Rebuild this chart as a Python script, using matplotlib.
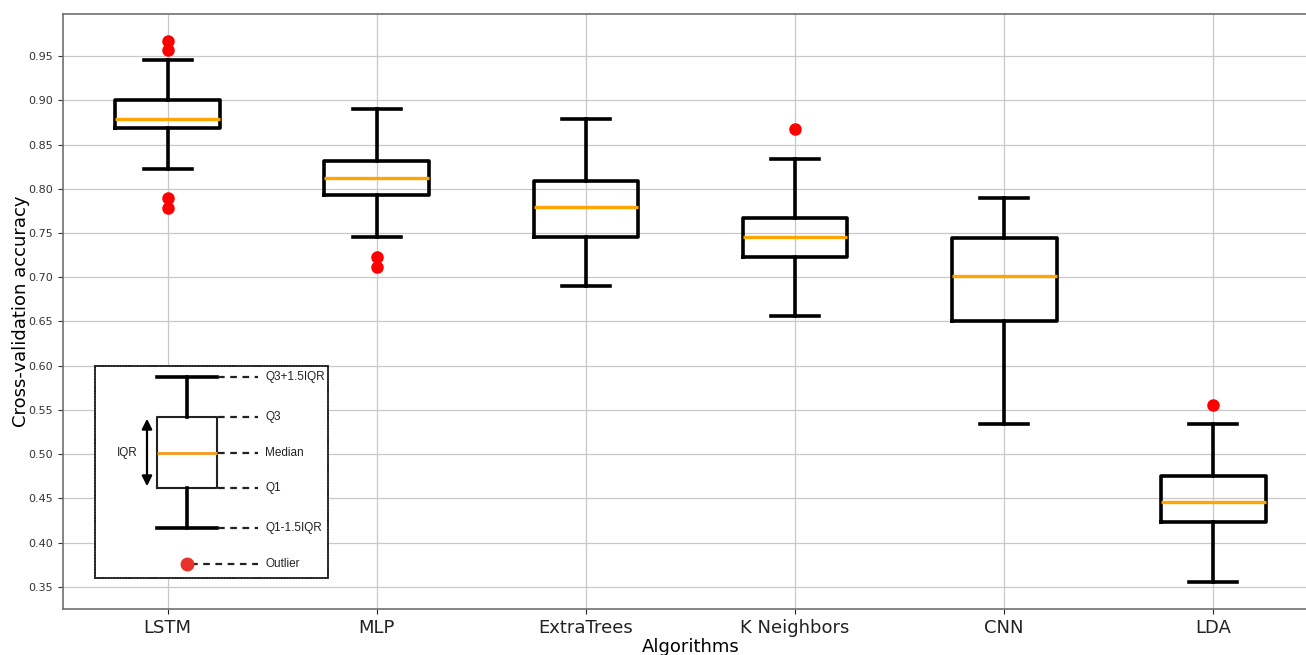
import matplotlib
matplotlib.use("Agg")
import matplotlib.pyplot as plt

W, H = 1306, 655

# ---- data ----
algorithms = ["LSTM", "MLP", "ExtraTrees", "K Neighbors", "CNN", "LDA"]
whislo = [0.822, 0.745, 0.690, 0.656, 0.534, 0.356]
q1 = [0.869, 0.793, 0.745, 0.723, 0.651, 0.4235]
med = [0.879, 0.812, 0.779, 0.745, 0.701, 0.446]
q3 = [0.900, 0.831, 0.809, 0.767, 0.744, 0.4755]
whishi = [0.9455, 0.890, 0.879, 0.834, 0.790, 0.534]
fliers = [[0.967, 0.957, 0.790, 0.778], [0.723, 0.712], [], [0.8675], [], [0.556]]

# schematic key (inset), in inset pixel units from its bottom edge
key_labels = ["Q3+1.5IQR", "Q3", "Median", "Q1", "Q1-1.5IQR"]
key_levels = [201, 161, 125, 90, 50]
key_outlier = 14

plt.rcParams.update({"font.family": "DejaVu Sans"})
fig = plt.figure(figsize=(W / 100, H / 100), dpi=100)
ax = fig.add_axes([63 / W, (H - 609) / H, (1318 - 63) / W, (609 - 14) / H])

stats = [dict(whislo=a, q1=b, med=c, q3=d, whishi=e, fliers=f, label=n)
         for a, b, c, d, e, f, n in zip(whislo, q1, med, q3, whishi, fliers, algorithms)]
ax.bxp(stats, widths=0.5, capwidths=0.23,
       boxprops=dict(color="black", lw=2.6),
       whiskerprops=dict(color="black", lw=2.6),
       capprops=dict(color="black", lw=2.6),
       medianprops=dict(color="orange", lw=2.4),
       flierprops=dict(marker="o", mfc="red", mec="red", ms=8))

ax.set_xlim(0.5, 6.5)
ax.set_ylim(0.325, 0.9975)
ax.set_yticks([0.35, 0.40, 0.45, 0.50, 0.55, 0.60, 0.65, 0.70, 0.75, 0.80, 0.85, 0.90, 0.95])
ax.tick_params(axis="y", labelsize=8, colors="#333333")
ax.tick_params(axis="x", labelsize=13, colors="#222222")
ax.grid(True, color="#c8c8c8", lw=0.9)
ax.set_axisbelow(True)
for s in ax.spines.values():
    s.set_color("#707070")
    s.set_linewidth(1.2)
ax.set_xlabel("Algorithms", fontsize=13, labelpad=1)
ax.set_ylabel("Cross-validation accuracy", fontsize=13, labelpad=-1)

# ---- inset key ----
kx0, ky0, kx1, ky1 = 95, 366, 328, 578
ins = fig.add_axes([kx0 / W, (H - ky1) / H, (kx1 - kx0) / W, (ky1 - ky0) / H])
ins.set_facecolor("white")

cx, bl, br = 92, 63, 123
ins.bxp([dict(whislo=key_levels[4], q1=key_levels[3], med=key_levels[2],
              q3=key_levels[1], whishi=key_levels[0], fliers=[])],
        positions=[cx], widths=br - bl, capwidths=br - bl, showfliers=False,
        boxprops=dict(color="#222222", lw=1.5),
        whiskerprops=dict(color="black", lw=2.6),
        capprops=dict(color="black", lw=2.6),
        medianprops=dict(color="#f0a030", lw=2.2))
ins.set_xticks([])
ins.set_yticks([])
ins.set_xlim(0, kx1 - kx0)
ins.set_ylim(0, ky1 - ky0)
for s in ins.spines.values():
    s.set_linestyle((0, (0.8, 0.8)))
    s.set_color("#222222")
    s.set_linewidth(1.3)

for lab, lv in zip(key_labels, key_levels):
    ins.plot([br, 163], [lv, lv], color="#222222", lw=1.6, ls=(0, (3, 2.5)))
    ins.text(170, lv, lab, fontsize=8.5, va="center", ha="left", color="#222222",
             family="Liberation Sans")
ins.plot([cx + 4, 163], [key_outlier, key_outlier], color="#222222", lw=1.6, ls=(0, (3, 2.5)))
ins.plot([cx], [key_outlier], "o", color="#e8322a", ms=9)
ins.text(170, key_outlier, "Outlier", fontsize=8.5, va="center", ha="left", color="#222222",
         family="Liberation Sans")
ins.annotate("", xy=(52, key_levels[3] - 1), xytext=(52, key_levels[1] + 1),
             arrowprops=dict(arrowstyle="<|-|>", color="black", lw=1.6, mutation_scale=15))
ins.text(43, key_levels[2], "IQR", fontsize=8.5, va="center", ha="right", color="#222222",
         family="Liberation Sans")

fig.savefig("out.png", dpi=100)
